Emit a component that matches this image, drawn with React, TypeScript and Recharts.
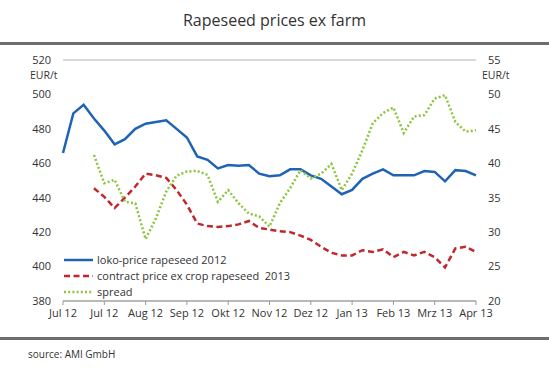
import React from "react";
import {
  CartesianGrid,
  Line,
  LineChart,
  XAxis,
  YAxis,
} from "recharts";

// weekly values, Jul 12 – Apr 13 (41 weeks)
const tickLabels = [
  "Jul 12", "Jul 12", "Aug 12", "Sep 12", "Okt 12", "Nov 12",
  "Dez 12", "Jan 13", "Feb 13", "Mrz 13", "Apr 13",
];

const lokoPrice = [
  466, 489, 494, 486, 479, 471, 474, 480, 483, 484, 485, 480, 475, 464,
  462, 457, 459, 458.5, 459, 454, 452.5, 453, 456.5, 456.5, 453, 451,
  446.5, 442, 444.5, 451, 454, 456.5, 453, 453, 453, 455.5, 455, 449.5,
  456, 455.5, 453,
];

const contractPrice = [
  null, null, null, 445.5, 440.5, 434, 440, 446.5, 454, 453, 451.5, 444.5,
  436, 425, 423.5, 423, 423.5, 424.5, 426.5, 422.5, 421.5, 420.5, 420, 418,
  415.5, 411.5, 408, 406.5, 406.5, 409.5, 408.5, 410, 405.5, 408.5, 406.5,
  408.5, 405.5, 399.5, 410.5, 411.5, 408.5,
];

const spread = [
  null, null, null, 41.2, 37.1, 37.6, 34.4, 34.2, 29, 32, 35.9, 38.2, 38.8,
  38.9, 38.3, 34.4, 36.1, 34.2, 32.7, 32.3, 30.8, 34.2, 36.4, 39, 37.8,
  38.5, 39.9, 36.1, 38.5, 41.9, 45.8, 47.3, 48.1, 44.4, 46.8, 47, 49.4,
  49.9, 46, 44.6, 44.8,
];

const leftTicks = [380, 400, 420, 440, 460, 480, 500, 520];
const rightTicks = [20, 25, 30, 35, 40, 45, 50, 55];

const data = lokoPrice.map((v, i) => ({
  week: i,
  loko: v,
  contract: contractPrice[i],
  spread: spread[i],
}));

const FONT = "'Open Sans', sans-serif";

const series = [
  { key: "loko", axis: "left", name: "loko-price rapeseed 2012", color: "#1f64b4", dash: undefined },
  { key: "contract", axis: "left", name: "contract price ex crop rapeseed  2013", color: "#c1272d", dash: "6 3.5" },
  { key: "spread", axis: "right", name: "spread", color: "#8cc43c", dash: "2 2.2" },
];

function LegendBox() {
  return (
    <div
      style={{
        position: "absolute",
        left: 63,
        top: 252,
        fontFamily: FONT,
        fontSize: 11,
        color: "#333",
        lineHeight: "16px",
        whiteSpace: "pre",
      }}
    >
      {series.map((s) => (
        <div key={s.key} style={{ display: "flex", alignItems: "center" }}>
          <svg width={32} height={10} style={{ marginRight: 2 }}>
            <line
              x1={1}
              y1={5}
              x2={30}
              y2={5}
              stroke={s.color}
              strokeWidth={2.5}
              strokeDasharray={s.dash}
            />
          </svg>
          <span>{s.name}</span>
        </div>
      ))}
    </div>
  );
}

export default function App() {
  return (
    <div
      style={{
        position: "absolute",
        left: 0,
        top: 0,
        width: 549,
        height: 377,
        background: "#fff",
        fontFamily: FONT,
      }}
    >
      <div
        style={{
          position: "absolute",
          top: 9,
          left: 0,
          width: 549,
          textAlign: "center",
          fontSize: 16,
          color: "#333",
        }}
      >
        Rapeseed prices ex farm
      </div>
      <div style={{ position: "absolute", top: 42, left: 0, width: 549, height: 3, background: "#6e6e6e" }} />
      <div style={{ position: "absolute", top: 337, left: 0, width: 549, height: 3, background: "#6e6e6e" }} />
      <div style={{ position: "absolute", top: 68, left: 30, fontSize: 10.5, color: "#333" }}>EUR/t</div>
      <div style={{ position: "absolute", top: 68, left: 482, fontSize: 10.5, color: "#333" }}>EUR/t</div>
      <div style={{ position: "absolute", top: 347, left: 28, fontSize: 10, color: "#333" }}>
        source: AMI GmbH
      </div>

      <div style={{ position: "absolute", left: 0, top: 0 }}>
        <LineChart
          width={549}
          height={377}
          data={data}
          margin={{ top: 60, right: 0, bottom: 46, left: 0 }}
        >
          <CartesianGrid vertical={false} stroke="#b4b4b4" strokeWidth={1.2} />
          <XAxis
            dataKey="week"
            type="number"
            domain={[0, 40]}
            ticks={tickLabels.map((_, k) => k * 4)}
            tickFormatter={(v: number) => tickLabels[v / 4]}
            interval={0}
            height={30}
            stroke="#999"
            tickSize={4}
            tickMargin={4}
            tick={{ fill: "#333", fontSize: 11, fontFamily: FONT }}
          />
          <YAxis
            yAxisId="left"
            domain={[380, 520]}
            ticks={leftTicks}
            width={63}
            axisLine={false}
            tickLine={false}
            tickSize={0}
            tickMargin={12}
            tick={{ fill: "#333", fontSize: 11, fontFamily: FONT }}
          />
          <YAxis
            yAxisId="right"
            orientation="right"
            domain={[20, 55]}
            ticks={rightTicks}
            width={73}
            axisLine={false}
            tickLine={false}
            tickSize={0}
            tickMargin={12}
            tick={{ fill: "#333", fontSize: 11, fontFamily: FONT }}
          />
          {series.map((s) => (
            <Line
              key={s.key}
              yAxisId={s.axis}
              dataKey={s.key}
              name={s.name}
              stroke={s.color}
              strokeWidth={2.5}
              strokeDasharray={s.dash}
              dot={false}
              isAnimationActive={false}
            />
          ))}
        </LineChart>
      </div>
      <LegendBox />
    </div>
  );
}
